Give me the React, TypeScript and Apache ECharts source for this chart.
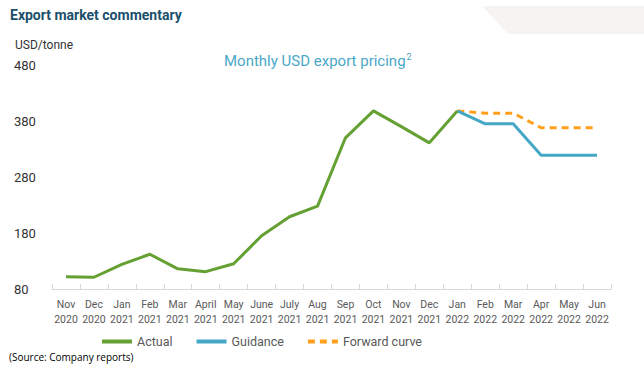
import React, { useEffect, useRef } from "react";
import * as echarts from "echarts";

const categories = [
  "Nov\n2020", "Dec\n2020", "Jan\n2021", "Feb\n2021", "Mar\n2021", "April\n2021",
  "May\n2021", "June\n2021", "July\n2021", "Aug\n2021", "Sep\n2021", "Oct\n2021",
  "Nov\n2021", "Dec\n2021", "Jan\n2022", "Feb\n2022", "Mar\n2022", "Apr\n2022",
  "May\n2022", "Jun\n2022",
];
const actual = [102, 101, 124, 142, 116, 111, 125, 175, 209, 228, 350, 398, 370, 341, 398, null, null, null, null, null];
const guidance = [null, null, null, null, null, null, null, null, null, null, null, null, null, null, 398, 375, 375, 319, 319, 319];
const forward = [null, null, null, null, null, null, null, null, null, null, null, null, null, null, 398, 394, 394, 368, 368, 368];
const yTicks = { min: 80, max: 480, interval: 100 };

export default function App() {
  const ref = useRef<HTMLDivElement>(null);
  useEffect(() => {
    if (!ref.current) return;
    const chart = echarts.init(ref.current, null, { renderer: "svg" });
    const font = "Roboto, 'Noto Sans', sans-serif";
    chart.setOption({
      animation: false,
      backgroundColor: "#ffffff",
      textStyle: { fontFamily: font },
      graphic: [
        {
          type: "polygon",
          shape: { points: [[482, 6], [644, 6], [644, 34], [508, 34]] },
          style: { fill: "#f5f4f2" },
          silent: true,
        },
        {
          type: "text",
          left: 10,
          top: 8,
          style: { text: "Export market commentary", fill: "#1b4f6b", font: "bold 14px Roboto, sans-serif" },
        },
        {
          type: "text",
          left: 15,
          top: 39,
          style: { text: "USD/tonne", fill: "#333333", font: "12px Roboto, sans-serif" },
        },
        {
          type: "text",
          left: 9,
          top: 352,
          style: { text: "(Source: Company reports)", fill: "#000000", font: "10px 'Open Sans', sans-serif" },
        },
      ],
      title: {
        text: "{a|Monthly USD export pricing}{b|2}",
        left: 219,
        top: 47,
        textStyle: {
          fontWeight: "normal",
          rich: {
            a: { fontSize: 15, color: "#4aa8c8", fontFamily: font, fontWeight: "normal" },
            b: { fontSize: 9, color: "#4aa8c8", fontFamily: font, fontWeight: "normal", verticalAlign: "top", padding: [0, 0, 8, 1] },
          },
        },
      },
      legend: {
        left: 95,
        top: 330,
        itemWidth: 30,
        itemHeight: 12,
        itemGap: 22,
        itemStyle: { opacity: 0 },
        lineStyle: { width: 4 },
        textStyle: { fontSize: 12.5, color: "#595959", fontFamily: font },
        data: ["Actual", "Guidance", "Forward curve"],
      },
      grid: { left: 52, right: 33, top: 65, bottom: 89, containLabel: false },
      xAxis: {
        type: "category",
        data: categories,
        boundaryGap: true,
        axisLine: { lineStyle: { color: "#d9d9d9", width: 1 } },
        axisTick: { show: true, inside: true, length: 5, lineStyle: { color: "#d9d9d9" } },
        axisLabel: { fontSize: 10.5, color: "#595959", lineHeight: 15, margin: 8, interval: 0 },
      },
      yAxis: {
        type: "value",
        min: yTicks.min,
        max: yTicks.max,
        interval: yTicks.interval,
        axisLine: { show: false },
        axisTick: { show: false },
        splitLine: { show: false },
        axisLabel: { fontSize: 13, color: "#333333", align: "left", margin: 38 },
      },
      series: [
        {
          name: "Actual",
          type: "line",
          data: actual,
          symbol: "none",
          showSymbol: false,
          lineStyle: { color: "#65a033", width: 3 },
          itemStyle: { color: "#65a033" },
          z: 3,
        },
        {
          name: "Guidance",
          type: "line",
          data: guidance,
          symbol: "none",
          showSymbol: false,
          lineStyle: { color: "#45a7c6", width: 3 },
          itemStyle: { color: "#45a7c6" },
          z: 2,
        },
        {
          name: "Forward curve",
          type: "line",
          data: forward,
          symbol: "none",
          showSymbol: false,
          lineStyle: { color: "#ff9f1c", width: 3, type: [7, 5] },
          itemStyle: { color: "#ff9f1c" },
          z: 1,
        },
      ],
    });
    return () => chart.dispose();
  }, []);
  return <div ref={ref} style={{ width: 644, height: 378, position: "absolute", left: 0, top: 0 }} />;
}
